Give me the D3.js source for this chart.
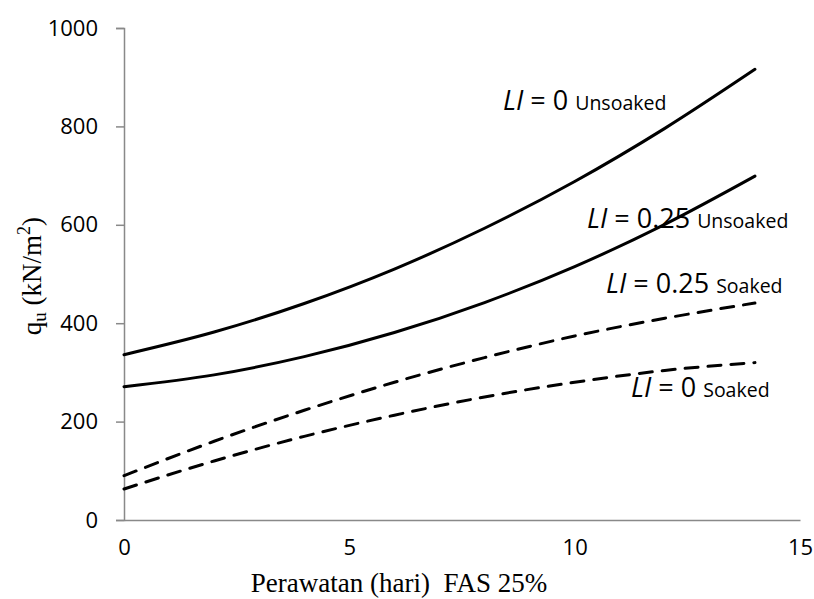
<!DOCTYPE html>
<html>
<head>
<meta charset="utf-8">
<script src="https://cdn.jsdelivr.net/npm/d3@7"></script>
<style>
  body { margin: 0; background: #fff; }
  svg { display: block; }
</style>
</head>
<body>
<svg id="chart" width="814" height="599"></svg>
<script>
// days of curing
const days = [0, 2, 4, 6, 8, 10, 12, 14];

// qu values (kN/m2)
const li0Unsoaked = [336, 382, 440, 510, 593, 688, 796, 916];
const li025Unsoaked = [271, 295, 332, 381, 442, 515, 601, 699];
const li025Soaked = [90, 160, 223, 280, 330, 374, 410, 441];
const li0Soaked = [63, 120, 170, 213, 250, 280, 304, 320];

const xTicks = [0, 5, 10, 15];
const yTicks = [0, 200, 400, 600, 800, 1000];

const series = [
    { name: "li0Unsoaked", values: li0Unsoaked, dashed: false },
    { name: "li025Unsoaked", values: li025Unsoaked, dashed: false },
    { name: "li025Soaked", values: li025Soaked, dashed: true },
    { name: "li0Soaked", values: li0Soaked, dashed: true }
];

// annotations: LI value, condition, position of the text
const labels = [
    { li: "0", cond: "Unsoaked", x: 503, y: 110 },
    { li: "0.25", cond: "Unsoaked", x: 587, y: 228 },
    { li: "0.25", cond: "Soaked", x: 606, y: 293 },
    { li: "0", cond: "Soaked", x: 631, y: 397 }
];

let svg = d3.select("#chart");
let axisColor = "#898989";
let tickFont = "'Open Sans', 'Liberation Sans', sans-serif";
let titleFont = "'Liberation Serif', serif";

let x = d3.scaleLinear().domain([0, 15]).range([124, 800]);
let y = d3.scaleLinear().domain([0, 1000]).range([520, 28]);

// y axis
let yAxis = svg.append("g")
    .attr("transform", "translate(124,0)")
    .call(d3.axisLeft(y).tickValues(yTicks).tickSize(8).tickPadding(18).tickFormat(d3.format("d")));
yAxis.select(".domain").attr("stroke", axisColor).attr("stroke-width", 1.5);
yAxis.selectAll(".tick line").attr("stroke", axisColor).attr("stroke-width", 1.5);
yAxis.selectAll("text")
    .attr("font-family", tickFont)
    .attr("font-size", "22px")
    .attr("fill", "#000");

// x axis (no tick marks)
let xAxis = svg.append("g")
    .attr("transform", "translate(0,520)")
    .call(d3.axisBottom(x).tickValues(xTicks).tickSize(0).tickSizeOuter(0).tickPadding(19));
xAxis.select(".domain").attr("stroke", axisColor).attr("stroke-width", 1.5);
xAxis.selectAll("text")
    .attr("font-family", tickFont)
    .attr("font-size", "22px")
    .attr("fill", "#000");

// curves
let line = d3.line()
    .x((d, i) => x(days[i]))
    .y(d => y(d))
    .curve(d3.curveMonotoneX);

svg.selectAll(".curve")
    .data(series)
    .enter()
    .append("path")
    .attr("class", "curve")
    .attr("d", d => line(d.values))
    .attr("fill", "none")
    .attr("stroke", "#000")
    .attr("stroke-width", 3)
    .attr("stroke-linecap", "round")
    .attr("stroke-dasharray", d => d.dashed ? "13,10" : null);

// curve labels
let lab = svg.selectAll(".lab")
    .data(labels)
    .enter()
    .append("text")
    .attr("class", "lab")
    .attr("x", d => d.x)
    .attr("y", d => d.y)
    .attr("font-family", tickFont)
    .attr("fill", "#000");
lab.append("tspan").attr("font-style", "italic").attr("font-size", "27px").text("LI");
lab.append("tspan").attr("font-size", "27px").text(d => " = " + d.li + " ");
lab.append("tspan").attr("font-size", "19.5px").text(d => d.cond);

// axis titles
svg.append("text")
    .attr("x", 399)
    .attr("y", 592)
    .attr("text-anchor", "middle")
    .attr("font-family", titleFont)
    .attr("font-size", "27px")
    .attr("xml:space", "preserve")
    .text("Perawatan (hari)  FAS 25%");

let yt = svg.append("text")
    .attr("transform", "translate(41,276) rotate(-90)")
    .attr("text-anchor", "middle")
    .attr("font-family", titleFont)
    .attr("font-size", "27px");
yt.append("tspan").text("q");
yt.append("tspan").attr("font-size", "19px").attr("dy", 5).text("u");
yt.append("tspan").attr("dy", -5).text(" (kN/m");
yt.append("tspan").attr("font-size", "18px").attr("dy", -11).text("2");
yt.append("tspan").attr("dy", 11).text(")");
</script>
</body>
</html>
